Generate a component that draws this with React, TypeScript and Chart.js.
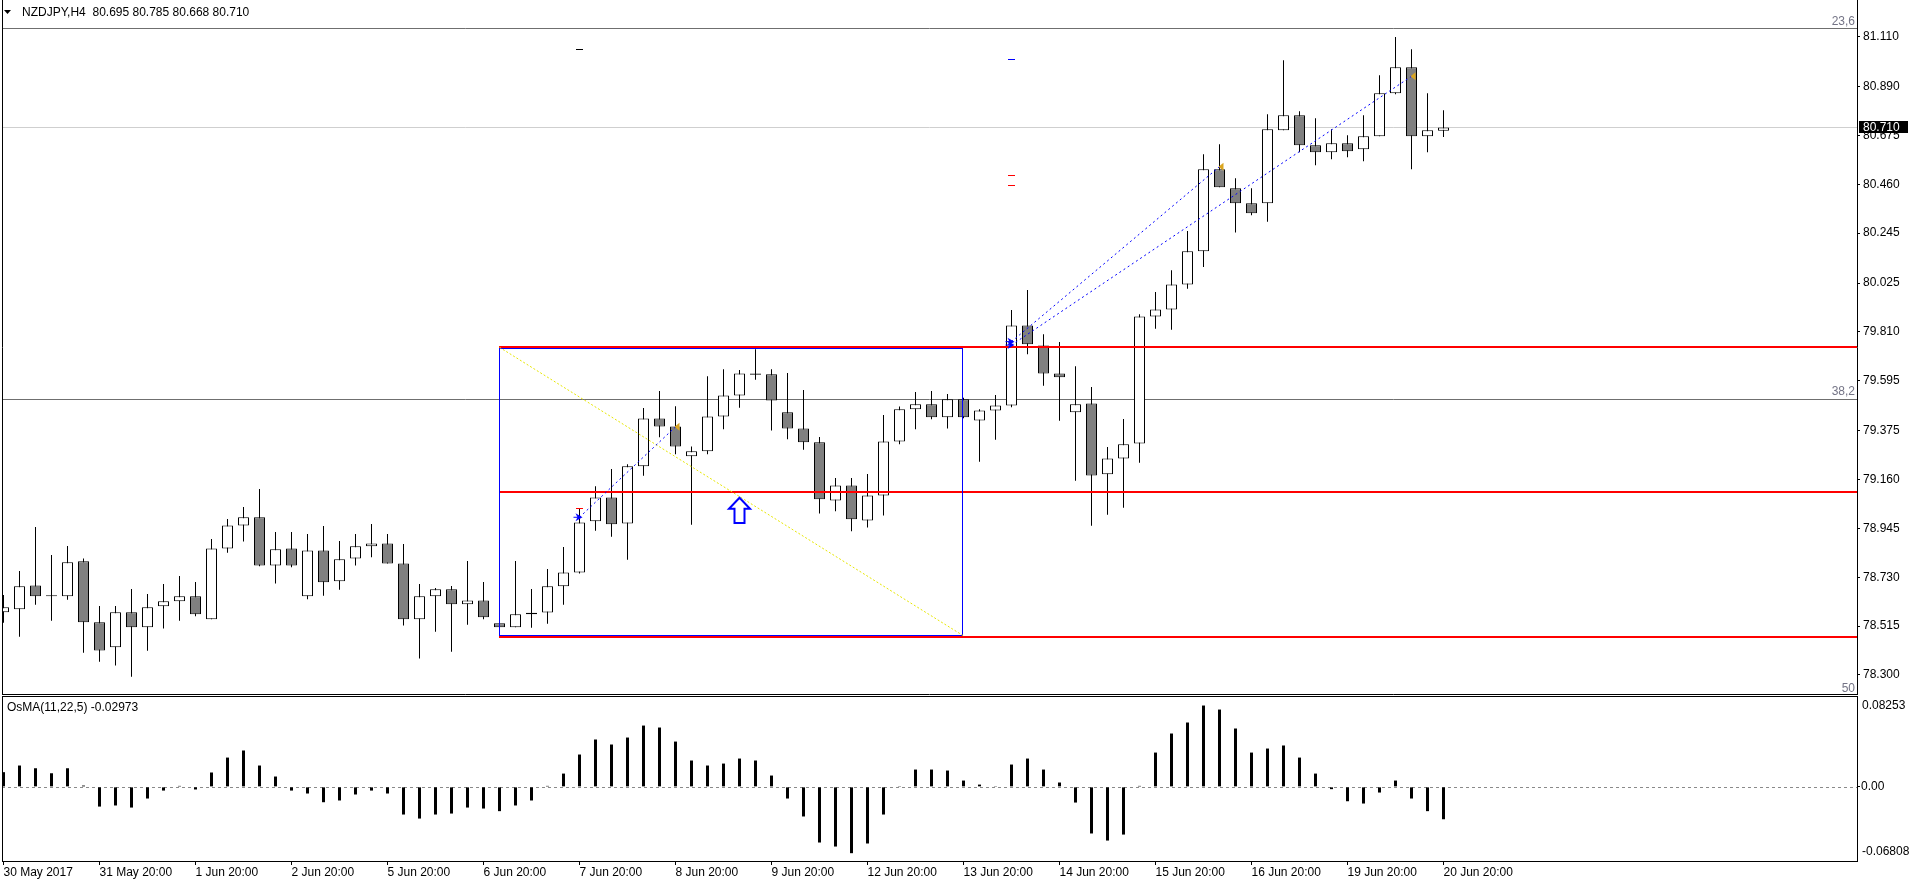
import React, { useEffect, useRef } from 'react';
import { Chart, registerables } from 'chart.js';

Chart.register(...registerables);

const FONT = "'Liberation Sans', Arial, sans-serif";

// ---- data (H4 candles, 30 May 20:00 .. 20 Jun 20:00) ----
const symbolTitle = 'NZDJPY,H4';
const opens = [
  78.576, 78.589, 78.694, 78.651, 78.646, 78.800, 78.532, 78.422, 78.576, 78.510,
  78.602, 78.624, 78.646, 78.545, 78.857, 78.958, 78.994, 78.782, 78.857, 78.646,
  78.848, 78.712, 78.813, 78.866, 78.879, 78.791, 78.545, 78.646, 78.677, 78.611,
  78.628, 78.527, 78.510, 78.567, 78.575, 78.690, 78.751, 78.976, 79.081, 78.967,
  79.218, 79.429, 79.394, 79.262, 79.284, 79.438, 79.530, 79.627, 79.623, 79.456,
  79.385, 79.324, 79.068, 79.134, 78.980, 79.090, 79.328, 79.469, 79.491, 79.434,
  79.513, 79.420, 79.464, 79.486, 79.838, 79.750, 79.627, 79.456, 79.495, 79.183,
  79.253, 79.319, 79.878, 79.909, 80.019, 80.165, 80.526, 80.442, 80.376, 80.376,
  80.697, 80.763, 80.631, 80.601, 80.640, 80.614, 80.671, 80.860, 80.975, 80.671,
  80.695,
];
const highs = [
  78.652, 78.757, 78.951, 78.828, 78.868, 78.813, 78.603, 78.603, 78.678, 78.656,
  78.700, 78.735, 78.709, 78.898, 78.986, 79.039, 79.118, 78.929, 78.929, 78.920,
  78.955, 78.890, 78.920, 78.964, 78.920, 78.876, 78.700, 78.683, 78.691, 78.801,
  78.709, 78.530, 78.801, 78.678, 78.766, 78.863, 79.033, 79.131, 79.206, 79.227,
  79.475, 79.550, 79.483, 79.306, 79.615, 79.646, 79.642, 79.734, 79.646, 79.629,
  79.554, 79.347, 79.167, 79.167, 79.184, 79.444, 79.482, 79.545, 79.550, 79.536,
  79.520, 79.469, 79.532, 79.906, 79.994, 79.799, 79.765, 79.659, 79.567, 79.303,
  79.426, 79.887, 79.985, 80.081, 80.254, 80.592, 80.636, 80.486, 80.442, 80.768,
  81.005, 80.781, 80.750, 80.702, 80.675, 80.763, 80.939, 81.108, 81.054, 80.860,
  80.785,
];
const lows = [
  78.530, 78.468, 78.609, 78.539, 78.631, 78.398, 78.358, 78.341, 78.292, 78.407,
  78.504, 78.539, 78.558, 78.545, 78.838, 78.887, 78.778, 78.702, 78.774, 78.633,
  78.649, 78.675, 78.782, 78.818, 78.791, 78.518, 78.372, 78.490, 78.402, 78.521,
  78.545, 78.505, 78.510, 78.508, 78.525, 78.609, 78.747, 78.935, 78.908, 78.807,
  79.177, 79.346, 79.271, 78.961, 79.271, 79.381, 79.476, 79.599, 79.376, 79.337,
  79.291, 79.011, 79.020, 78.932, 78.949, 79.002, 79.315, 79.381, 79.425, 79.385,
  79.430, 79.238, 79.335, 79.478, 79.711, 79.573, 79.419, 79.155, 78.957, 79.005,
  79.036, 79.234, 79.824, 79.819, 80.000, 80.096, 80.447, 80.247, 80.323, 80.295,
  80.697, 80.601, 80.543, 80.570, 80.579, 80.561, 80.671, 80.856, 80.526, 80.601,
  80.668,
];
const closes = [
  78.598, 78.690, 78.646, 78.646, 78.796, 78.532, 78.408, 78.576, 78.510, 78.598,
  78.624, 78.646, 78.567, 78.857, 78.958, 78.994, 78.782, 78.853, 78.782, 78.848,
  78.708, 78.809, 78.866, 78.879, 78.791, 78.545, 78.646, 78.677, 78.611, 78.628,
  78.554, 78.510, 78.567, 78.574, 78.690, 78.751, 78.971, 79.081, 78.963, 79.218,
  79.429, 79.394, 79.306, 79.284, 79.438, 79.530, 79.627, 79.621, 79.508, 79.385,
  79.324, 79.073, 79.134, 78.985, 79.090, 79.328, 79.469, 79.491, 79.434, 79.513,
  79.434, 79.464, 79.486, 79.838, 79.755, 79.627, 79.610, 79.491, 79.178, 79.253,
  79.315, 79.878, 79.909, 80.019, 80.165, 80.526, 80.447, 80.376, 80.332, 80.702,
  80.763, 80.631, 80.601, 80.640, 80.605, 80.671, 80.860, 80.975, 80.671, 80.697,
  80.710,
];
const osmaTitle = 'OsMA(11,22,5)';
const osmaValues = [
  0.0135, 0.0196, 0.0171, 0.0125, 0.0171, 0.0012, -0.0181, -0.0171, -0.0190, -0.0107,
  -0.0034, 0.0009, -0.0024, 0.0132, 0.0269, 0.0334, 0.0196, 0.0095, -0.0034, -0.0061,
  -0.0141, -0.0125, -0.0070, -0.0034, -0.0061, -0.0254, -0.0291, -0.0254, -0.0245, -0.0190,
  -0.0199, -0.0223, -0.0171, -0.0125, 0.0009, 0.0122, 0.0297, 0.0435, 0.0389, 0.0453,
  0.0563, 0.0545, 0.0416, 0.0242, 0.0196, 0.0214, 0.0260, 0.0242, 0.0104, -0.0107,
  -0.0272, -0.0511, -0.0548, -0.0609, -0.0520, -0.0254, 0.0002, 0.0159, 0.0159, 0.0150,
  0.0058, 0.0021, 0.0002, 0.0205, 0.0260, 0.0159, 0.0040, -0.0144, -0.0428, -0.0493,
  -0.0438, 0.0009, 0.0315, 0.0490, 0.0591, 0.0747, 0.0710, 0.0536, 0.0315, 0.0352,
  0.0380, 0.0269, 0.0122, -0.0021, -0.0132, -0.0153, -0.0052, 0.0058, -0.0107, -0.0223,
  -0.02973,
];
const osmaAxisMax = 0.08253;
const osmaAxisMin = -0.06808;
const priceTicks = [81.11, 80.89, 80.675, 80.46, 80.245, 80.025, 79.81, 79.595, 79.375, 79.16, 78.945, 78.73, 78.515, 78.3];
const timeTickBars = [0, 6, 12, 18, 24, 30, 36, 42, 48, 54, 60, 66, 72, 78, 84, 90];
const timeTickLabels = [
  '30 May 2017', '31 May 20:00', '1 Jun 20:00', '2 Jun 20:00', '5 Jun 20:00', '6 Jun 20:00',
  '7 Jun 20:00', '8 Jun 20:00', '9 Jun 20:00', '12 Jun 20:00', '13 Jun 20:00', '14 Jun 20:00',
  '15 Jun 20:00', '16 Jun 20:00', '19 Jun 20:00', '20 Jun 20:00',
];
// chart objects
const fibLevels = [81.146, 79.515];
const fibLabels = ['23,6', '38,2'];
const fibBottomLabel = '50';
const redLevels = [79.745, 79.105, 78.468];
const redStartBar = 31;
const boxBars = [31, 60];
const boxPrices = [79.738, 78.476];
const diagonalBars = [31, 60];
const diagonalPrices = [79.742, 78.472];
const trendFromBars = [36, 63, 63];
const trendFromPrices = [78.994, 79.767, 79.752];
const trendToBars = [42, 76, 88];
const trendToPrices = [79.392, 80.537, 80.935];
const arrowBar = 46;
const arrowPrices = [79.080, 78.969];
const markerBars = [36, 36, 63, 63, 63];
const markerPrices = [81.056, 79.033, 81.013, 80.499, 80.456];

const barIdx = opens.map((_, i) => i);
const X_MIN = -0.09375;
const X_MAX = 115.84375;
const Y_MAX = 81.2707;
const Y_MIN = 78.2161;

function hline(ctx: CanvasRenderingContext2D, x1: number, x2: number, y: number) {
  ctx.beginPath();
  ctx.moveTo(x1, y);
  ctx.lineTo(x2, y);
  ctx.stroke();
}

const mainOverlay = {
  id: 'mainOverlay',
  beforeDatasetsDraw(chart: any) {
    const { ctx, chartArea: a, scales } = chart;
    const y = scales.y;
    ctx.save();
    ctx.lineWidth = 1;
    ctx.strokeStyle = '#6f6f6f';
    fibLevels.forEach((l) => hline(ctx, a.left, a.right, Math.round(y.getPixelForValue(l)) + 0.5));
    ctx.strokeStyle = '#cfcfcf';
    hline(ctx, a.left, a.right, Math.round(y.getPixelForValue(closes[closes.length - 1])) + 0.5);
    ctx.restore();
  },
  afterDatasetsDraw(chart: any) {
    const { ctx, chartArea: a, scales } = chart;
    const x = scales.x;
    const y = scales.y;
    const X = (b: number) => x.getPixelForValue(b);
    const Y = (p: number) => y.getPixelForValue(p);
    ctx.save();
    // red levels
    ctx.strokeStyle = '#ff0000';
    ctx.lineWidth = 2;
    redLevels.forEach((l) => hline(ctx, X(redStartBar) - 0.5, a.right, Math.round(Y(l))));
    // blue box
    ctx.strokeStyle = '#0000ff';
    ctx.lineWidth = 1;
    const bx1 = Math.round(X(boxBars[0])) - 0.5;
    const bx2 = Math.round(X(boxBars[1])) - 0.5;
    const by1 = Math.round(Y(boxPrices[0])) + 0.5;
    const by2 = Math.round(Y(boxPrices[1])) + 0.5;
    ctx.strokeRect(bx1, by1, bx2 - bx1, by2 - by1);
    // yellow diagonal
    ctx.strokeStyle = '#e6e600';
    ctx.setLineDash([2, 2]);
    ctx.beginPath();
    ctx.moveTo(X(diagonalBars[0]), Y(diagonalPrices[0]));
    ctx.lineTo(X(diagonalBars[1]), Y(diagonalPrices[1]));
    ctx.stroke();
    // blue dotted trend lines
    ctx.strokeStyle = '#0000ff';
    ctx.setLineDash([2, 3]);
    for (let k = 0; k < trendFromBars.length; k++) {
      ctx.beginPath();
      ctx.moveTo(X(trendFromBars[k]), Y(trendFromPrices[k]));
      ctx.lineTo(X(trendToBars[k]), Y(trendToPrices[k]));
      ctx.stroke();
    }
    ctx.setLineDash([]);
    // start arrows
    ctx.fillStyle = '#0000ff';
    for (let k = 0; k < trendFromBars.length; k++) {
      const sx = X(trendFromBars[k]);
      const sy = Y(trendFromPrices[k]);
      ctx.beginPath();
      ctx.moveTo(sx - 4, sy - 4);
      ctx.lineTo(sx + 3, sy);
      ctx.lineTo(sx - 4, sy + 4);
      ctx.lineTo(sx - 2, sy);
      ctx.closePath();
      ctx.fill();
      ctx.fillRect(sx - 6, sy - 0.5, 5, 1);
    }
    // end triangles
    ctx.fillStyle = '#daa520';
    for (let k = 0; k < trendToBars.length; k++) {
      const ex = X(trendToBars[k]);
      const ey = Y(trendToPrices[k]);
      ctx.beginPath();
      ctx.moveTo(ex + 4, ey - 4);
      ctx.lineTo(ex + 4, ey + 4);
      ctx.lineTo(ex - 1, ey);
      ctx.closePath();
      ctx.fill();
    }
    // up arrow
    const ax = X(arrowBar);
    const at = Y(arrowPrices[0]);
    const ab = Y(arrowPrices[1]);
    ctx.beginPath();
    ctx.moveTo(ax, at);
    ctx.lineTo(ax + 10.5, at + 11);
    ctx.lineTo(ax + 5, at + 11);
    ctx.lineTo(ax + 5, ab);
    ctx.lineTo(ax - 5, ab);
    ctx.lineTo(ax - 5, at + 11);
    ctx.lineTo(ax - 10.5, at + 11);
    ctx.closePath();
    ctx.fillStyle = '#ffffff';
    ctx.fill();
    ctx.strokeStyle = '#0000ff';
    ctx.lineWidth = 2;
    ctx.stroke();
    // small markers
    const markerColors = ['#000000', '#ff0000', '#0000ff', '#ff0000', '#ff0000'];
    ctx.lineWidth = 1;
    for (let k = 0; k < markerBars.length; k++) {
      ctx.strokeStyle = markerColors[k];
      const mx = X(markerBars[k]);
      hline(ctx, mx - 3.5, mx + 3.5, Math.round(Y(markerPrices[k])) + 0.5);
    }
    ctx.restore();
  },
  afterDraw(chart: any) {
    const { ctx, chartArea: a, scales } = chart;
    const y = scales.y;
    ctx.save();
    ctx.strokeStyle = '#000';
    ctx.lineWidth = 1;
    ctx.beginPath();
    ctx.moveTo(a.left + 0.5, 0);
    ctx.lineTo(a.left + 0.5, a.bottom + 1);
    ctx.moveTo(a.left, a.bottom + 0.5);
    ctx.lineTo(a.right, a.bottom + 0.5);
    ctx.stroke();
    // fib labels
    ctx.font = `12px ${FONT}`;
    ctx.fillStyle = '#747486';
    ctx.textAlign = 'right';
    ctx.textBaseline = 'bottom';
    fibLevels.forEach((l, k) => ctx.fillText(fibLabels[k], a.right - 2, y.getPixelForValue(l) - 1));
    ctx.fillText(fibBottomLabel, a.right - 2, a.bottom + 1);
    // header
    ctx.fillStyle = '#000';
    ctx.beginPath();
    ctx.moveTo(4, 10);
    ctx.lineTo(11, 10);
    ctx.lineTo(7.5, 14);
    ctx.closePath();
    ctx.fill();
    ctx.textAlign = 'left';
    ctx.textBaseline = 'middle';
    const last = closes.length - 1;
    const hdr = `${symbolTitle}  ${opens[last].toFixed(3)} ${highs[last].toFixed(3)} ${lows[last].toFixed(3)} ${closes[last].toFixed(3)}`;
    ctx.fillText(hdr, 22, 13);
    // bid label
    const by = Math.round(y.getPixelForValue(closes[last]));
    ctx.fillStyle = '#000';
    ctx.fillRect(a.right + 2, by - 6, 49, 12);
    ctx.fillStyle = '#fff';
    ctx.fillText(closes[last].toFixed(3), a.right + 6, by + 0.5);
    ctx.restore();
  },
};

const osmaOverlay = {
  id: 'osmaOverlay',
  beforeDatasetsDraw(chart: any) {
    const { ctx, chartArea: a, scales } = chart;
    ctx.save();
    ctx.strokeStyle = '#8a8a8a';
    ctx.lineWidth = 1;
    ctx.setLineDash([3, 3]);
    hline(ctx, a.left, a.right, Math.round(scales.y.getPixelForValue(0)) + 0.5);
    ctx.restore();
  },
  afterDraw(chart: any) {
    const { ctx, chartArea: a } = chart;
    ctx.save();
    ctx.strokeStyle = '#000';
    ctx.lineWidth = 1;
    ctx.beginPath();
    ctx.moveTo(a.left + 0.5, 0);
    ctx.lineTo(a.left + 0.5, a.bottom);
    ctx.moveTo(a.left, 0.5);
    ctx.lineTo(a.right + 1, 0.5);
    ctx.stroke();
    ctx.font = `12px ${FONT}`;
    ctx.fillStyle = '#000';
    ctx.textAlign = 'left';
    ctx.textBaseline = 'middle';
    ctx.fillText(`${osmaTitle} ${osmaValues[osmaValues.length - 1].toFixed(5)}`, 7, a.top + 11);
    ctx.fillText(osmaAxisMax.toFixed(5), a.right + 5, a.top + 9);
    ctx.fillText(osmaAxisMin.toFixed(5), a.right + 5, a.bottom - 9);
    ctx.restore();
  },
};

export default function App() {
  const mainRef = useRef<HTMLCanvasElement | null>(null);
  const osmaRef = useRef<HTMLCanvasElement | null>(null);

  useEffect(() => {
    document.body.style.margin = '0';
    document.body.style.background = '#ffffff';
    const font = { family: FONT, size: 12 };

    const mainChart = new Chart(mainRef.current as HTMLCanvasElement, {
      type: 'bar',
      data: {
        datasets: [
          {
            label: 'body',
            data: barIdx.map((i) => ({ x: i, y: [opens[i], closes[i]] })) as any,
            backgroundColor: barIdx.map((i) => (closes[i] >= opens[i] ? '#ffffff' : '#808080')),
            borderColor: '#000000',
            borderWidth: 1,
            borderSkipped: false,
            barThickness: 11,
            grouped: false,
            inflateAmount: 0,
            order: 1,
          } as any,
          {
            label: 'wick',
            data: barIdx.map((i) => ({ x: i, y: [lows[i], highs[i]] })) as any,
            backgroundColor: '#000000',
            borderWidth: 0,
            barThickness: 1,
            grouped: false,
            inflateAmount: 0,
            order: 2,
          } as any,
        ],
      },
      options: {
        responsive: false,
        animation: false,
        devicePixelRatio: 1,
        layout: { padding: { left: 2, top: 0, right: 0, bottom: 2 } },
        plugins: { legend: { display: false }, tooltip: { enabled: false } },
        events: [],
        scales: {
          x: {
            type: 'linear',
            min: X_MIN,
            max: X_MAX,
            display: false,
            offset: false,
            grid: { offset: false },
          },
          y: {
            position: 'right',
            min: Y_MIN,
            max: Y_MAX,
            afterFit: (s: any) => {
              s.width = 53;
              s.paddingTop = 0;
              s.paddingBottom = 0;
            },
            afterBuildTicks: (s: any) => {
              s.ticks = priceTicks.map((v) => ({ value: v }));
            },
            ticks: {
              callback: (v: any) => Number(v).toFixed(3),
              color: '#000',
              font,
              padding: 3,
              autoSkip: false,
            },
            grid: { drawOnChartArea: false, drawTicks: true, tickLength: 3, color: '#000' },
            border: { display: true, color: '#000', width: 1 },
          },
        },
      } as any,
      plugins: [mainOverlay],
    });

    const osmaChart = new Chart(osmaRef.current as HTMLCanvasElement, {
      type: 'bar',
      data: {
        datasets: [
          {
            label: 'OsMA',
            data: barIdx.map((i) => ({ x: i, y: osmaValues[i] })) as any,
            backgroundColor: '#000000',
            borderWidth: 0,
            barThickness: 3,
            grouped: false,
            inflateAmount: 0,
          } as any,
        ],
      },
      options: {
        responsive: false,
        animation: false,
        devicePixelRatio: 1,
        layout: { padding: { left: 2, top: 1, right: 0, bottom: 0 } },
        plugins: { legend: { display: false }, tooltip: { enabled: false } },
        events: [],
        scales: {
          x: {
            type: 'linear',
            position: 'bottom',
            min: X_MIN,
            max: X_MAX,
            offset: false,
            afterFit: (s: any) => {
              s.height = 23;
              s.paddingLeft = 0;
              s.paddingRight = 0;
            },
            afterBuildTicks: (s: any) => {
              s.ticks = timeTickBars.map((v) => ({ value: v }));
            },
            ticks: {
              callback: (_v: any, idx: number) => timeTickLabels[idx],
              align: 'start',
              autoSkip: false,
              maxRotation: 0,
              minRotation: 0,
              padding: 0,
              color: '#000',
              font,
            },
            grid: { drawOnChartArea: false, drawTicks: true, tickLength: 4, color: '#000', offset: false },
            border: { display: true, color: '#000', width: 1 },
          },
          y: {
            position: 'right',
            min: osmaAxisMin,
            max: osmaAxisMax,
            afterFit: (s: any) => {
              s.width = 53;
              s.paddingTop = 0;
              s.paddingBottom = 0;
            },
            afterBuildTicks: (s: any) => {
              s.ticks = [{ value: 0 }];
            },
            ticks: {
              callback: (v: any) => Number(v).toFixed(2),
              color: '#000',
              font,
              padding: 1,
              autoSkip: false,
            },
            grid: { drawOnChartArea: false, drawTicks: true, tickLength: 3, color: '#000' },
            border: { display: true, color: '#000', width: 1 },
          },
        },
      } as any,
      plugins: [osmaOverlay],
    });

    return () => {
      mainChart.destroy();
      osmaChart.destroy();
    };
  }, []);

  return (
    <div style={{ width: 1910, height: 884, background: '#fff' }}>
      <canvas ref={mainRef} width={1910} height={696} style={{ display: 'block', width: 1910, height: 696 }} />
      <canvas ref={osmaRef} width={1910} height={188} style={{ display: 'block', width: 1910, height: 188 }} />
    </div>
  );
}
